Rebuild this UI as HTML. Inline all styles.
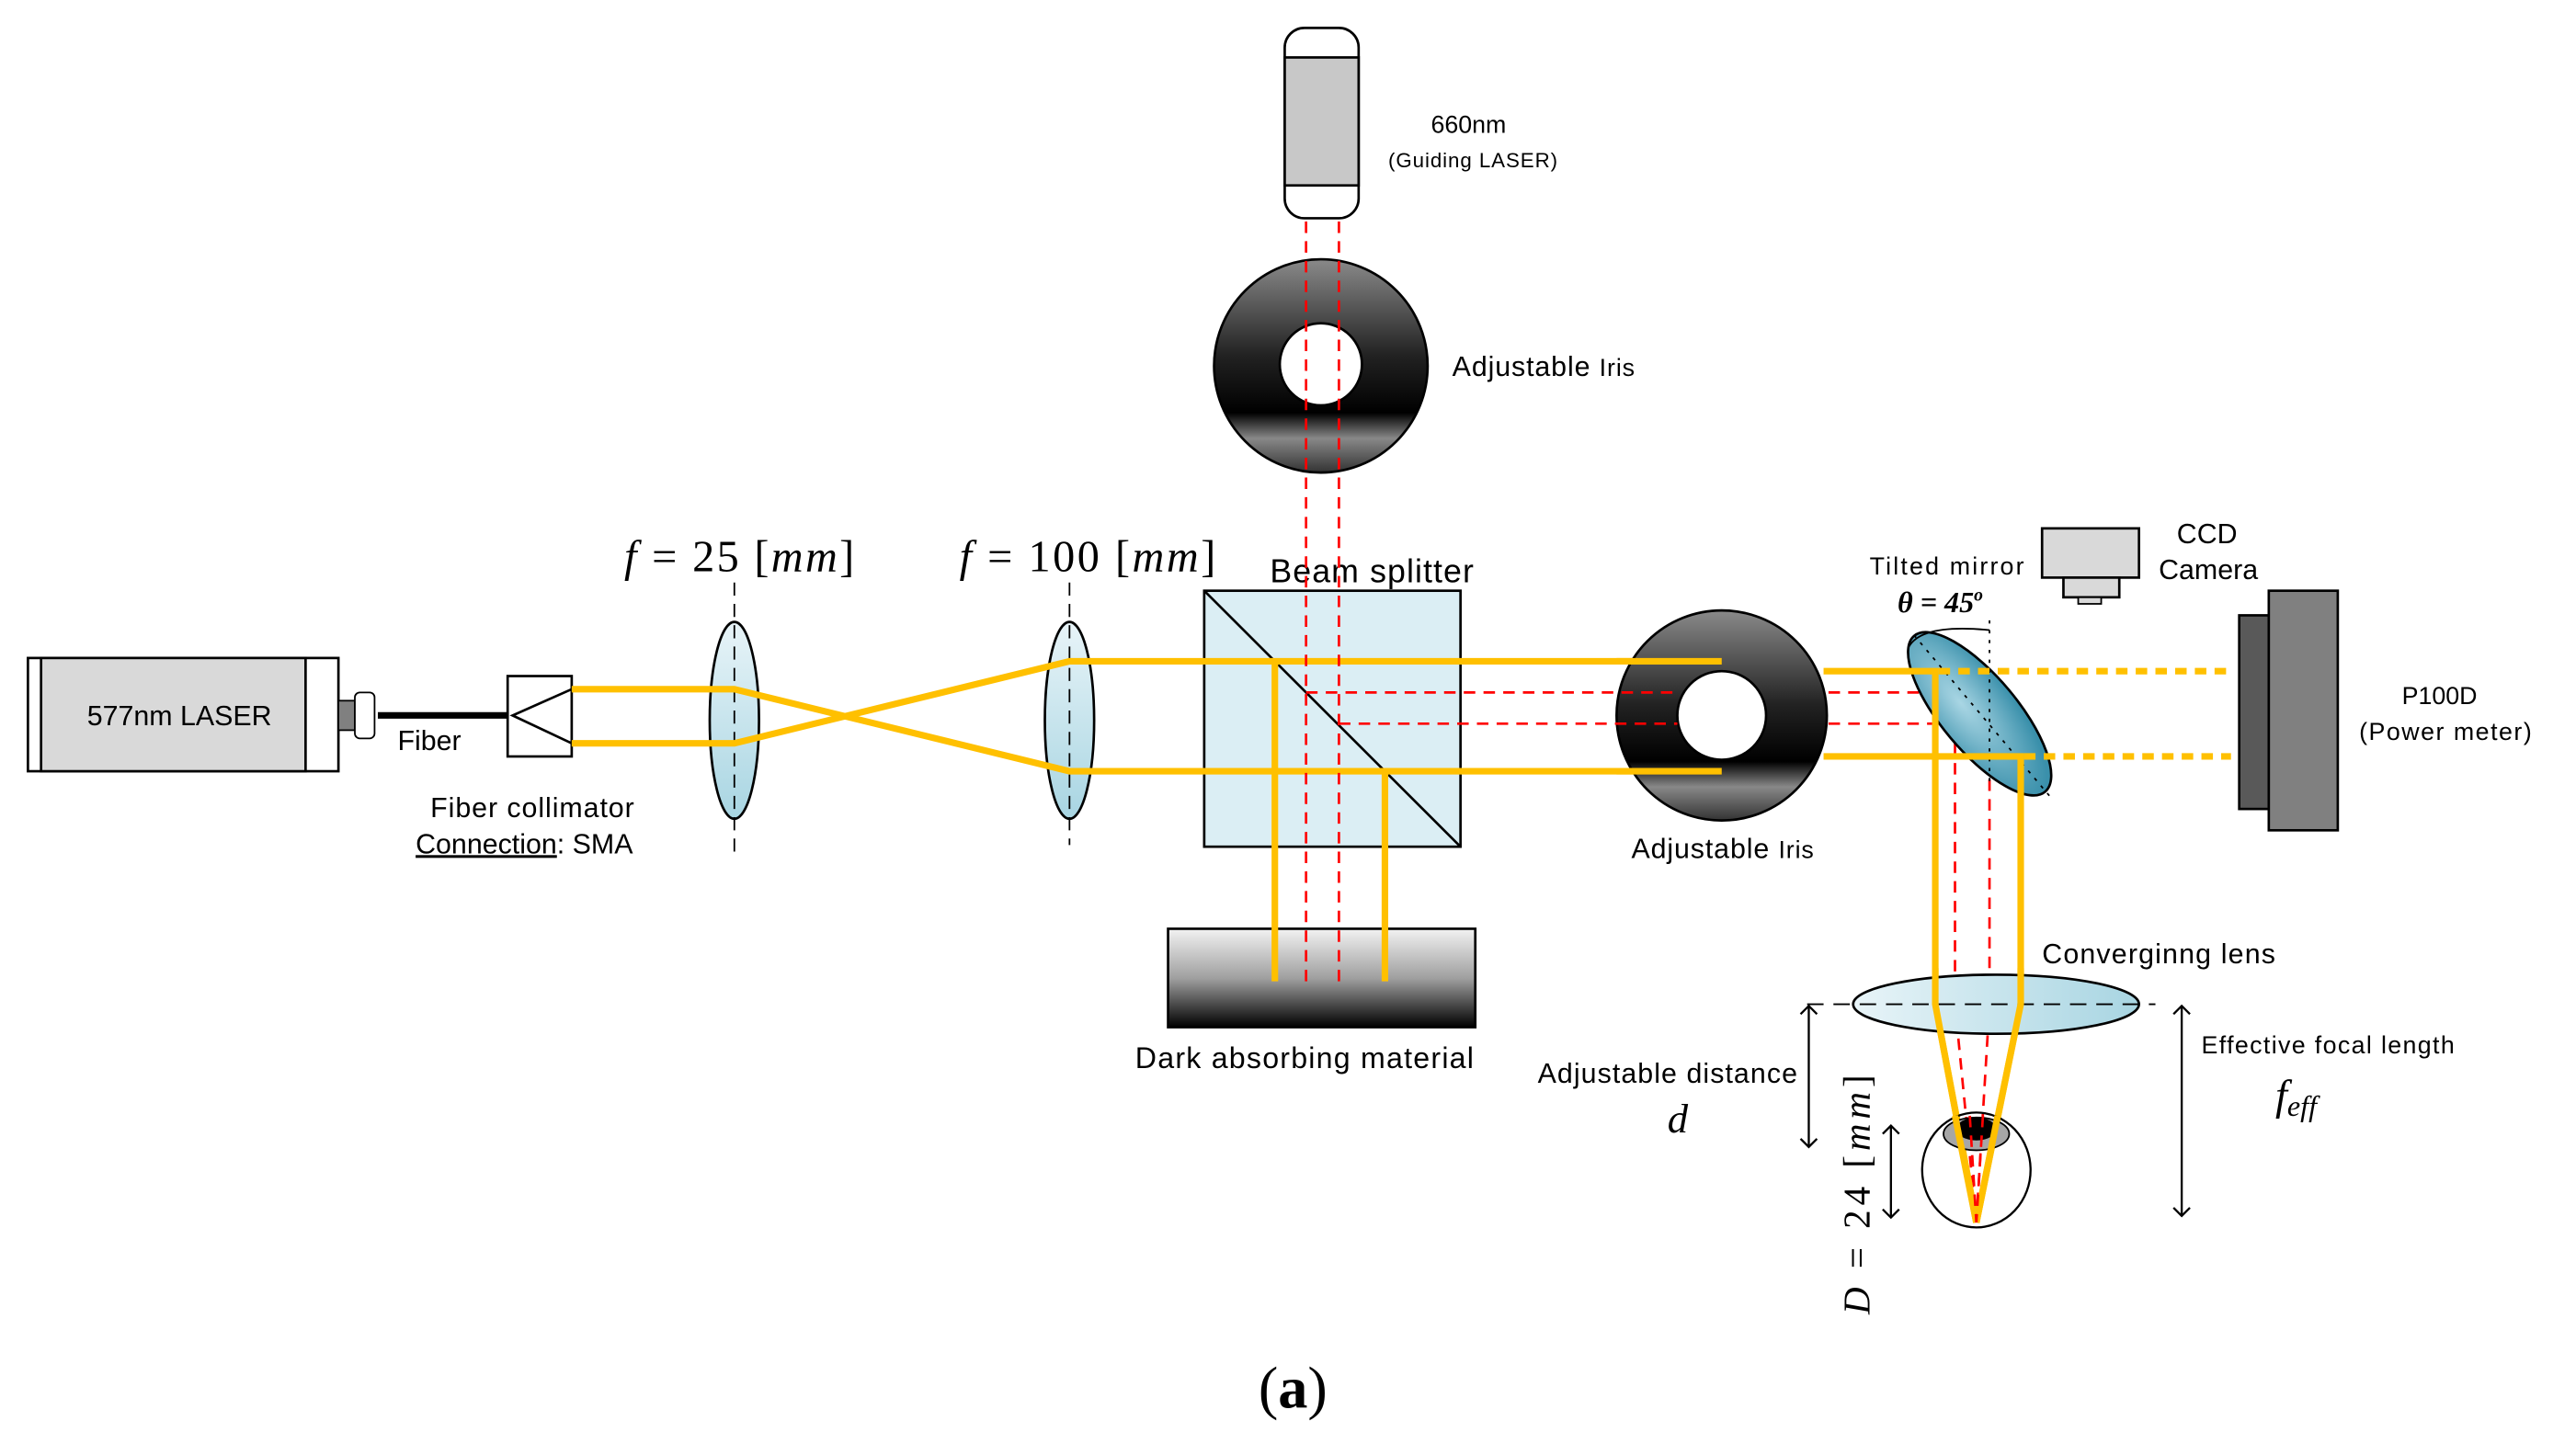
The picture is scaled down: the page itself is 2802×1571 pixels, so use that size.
<!DOCTYPE html>
<html><head><meta charset="utf-8"><style>html,body{margin:0;padding:0;background:#fff}svg{display:block}</style></head>
<body>
<svg width="2802" height="1571" viewBox="0 0 1568 880" preserveAspectRatio="none" xmlns="http://www.w3.org/2000/svg" font-family="Liberation Sans, sans-serif">
<defs>
<linearGradient id="irisg" x1="0" y1="0" x2="0" y2="1">
<stop offset="0" stop-color="#8a8a8a"/><stop offset="0.45" stop-color="#222"/><stop offset="0.72" stop-color="#000"/><stop offset="0.84" stop-color="#888"/><stop offset="1" stop-color="#333"/></linearGradient>
<linearGradient id="lens" x1="0" y1="0" x2="0" y2="1"><stop offset="0" stop-color="#e8f4f8"/><stop offset="1" stop-color="#a8d5e2"/></linearGradient>
<linearGradient id="lensh" x1="0" y1="0" x2="1" y2="0"><stop offset="0" stop-color="#e8f4f8"/><stop offset="1" stop-color="#a8d5e2"/></linearGradient>
<linearGradient id="dark" x1="0" y1="0" x2="0" y2="1"><stop offset="0" stop-color="#f2f2f2"/><stop offset="0.5" stop-color="#a0a0a0"/><stop offset="1" stop-color="#000"/></linearGradient>
<radialGradient id="mir" cx="40%" cy="60%" r="60%"><stop offset="0" stop-color="#a9d6e4"/><stop offset="1" stop-color="#3a90ab"/></radialGradient>
<marker id="ah" markerWidth="14" markerHeight="14" refX="7" refY="7" orient="auto-start-reverse" markerUnits="userSpaceOnUse"><path d="M2,2 L7,7 L2,12" fill="none" stroke="#000" stroke-width="1.3"/></marker>
</defs>

<rect x="17" y="401" width="189" height="69" fill="#fff" stroke="#000" stroke-width="1.5"/>
<rect x="25" y="401" width="161" height="69" fill="#d9d9d9" stroke="#000" stroke-width="1.5"/>
<text x="53" y="442" font-size="17">577nm LASER</text>
<rect x="206" y="427" width="10" height="18" fill="#808080" stroke="#000"/>
<rect x="216" y="422" width="12" height="28" rx="3" fill="#fff" stroke="#000"/>
<line x1="230" y1="436" x2="310" y2="436" stroke="#000" stroke-width="4"/>
<text x="242" y="457" font-size="17">Fiber</text>
<rect x="309" y="412" width="39" height="49" fill="#fff" stroke="#000" stroke-width="1.5"/>
<polyline points="348,420 312,436 348,453" fill="none" stroke="#000" stroke-width="1.5"/>
<text x="262" y="498" font-size="17" textLength="124">Fiber collimator</text>
<text x="253" y="520" font-size="17"><tspan text-decoration="underline">Connection</tspan>: SMA</text>

<ellipse cx="447" cy="439" rx="15" ry="60" fill="url(#lens)" stroke="#000" stroke-width="1.5"/>
<line x1="447" y1="355" x2="447" y2="520" stroke="#000" stroke-dasharray="8,5"/>
<ellipse cx="651" cy="439" rx="15" ry="60" fill="url(#lens)" stroke="#000" stroke-width="1.5"/>
<line x1="651" y1="355" x2="651" y2="515" stroke="#000" stroke-dasharray="8,5"/>
<text x="380" y="348" font-size="27" font-family="Liberation Serif, serif" textLength="140"><tspan font-style="italic">f</tspan> = 25 [<tspan font-style="italic">mm</tspan>]</text>
<text x="584" y="348" font-size="27" font-family="Liberation Serif, serif" textLength="156"><tspan font-style="italic">f</tspan> = 100 [<tspan font-style="italic">mm</tspan>]</text>

<rect x="733" y="360" width="156" height="156" fill="#dbeef4" stroke="#000" stroke-width="1.5"/>
<line x1="733" y1="360" x2="889" y2="516" stroke="#000" stroke-width="1.5"/>
<text x="773" y="355" font-size="20" textLength="124">Beam splitter</text>

<rect x="711" y="566" width="187" height="60" fill="url(#dark)" stroke="#000" stroke-width="1.5"/>
<text x="691" y="651" font-size="18" textLength="206">Dark absorbing material</text>

<rect x="782" y="17" width="45" height="116" rx="12" fill="#fff" stroke="#000" stroke-width="1.5"/>
<rect x="782" y="35" width="45" height="78" fill="#c8c8c8" stroke="#000" stroke-width="1.5"/>
<text x="871" y="81" font-size="15">660nm</text>
<text x="845" y="102" font-size="12.5" textLength="103">(Guiding LASER)</text>

<circle cx="804" cy="223" r="65" fill="url(#irisg)" stroke="#000" stroke-width="1.5"/>
<circle cx="804" cy="222" r="25" fill="#fff" stroke="#000" stroke-width="1.5"/>
<text x="884" y="229" font-size="17" textLength="111">Adjustable <tspan font-size="15">Iris</tspan></text>

<g stroke="#ffc000" stroke-width="4" fill="none">
<polyline points="348,420 447,420 651,470 1048,470"/>
<polyline points="348,453 447,453 651,403 1048,403"/>
<polyline points="776,403 776,598"/>
<polyline points="843,470 843,598"/>
</g>

<circle cx="1048" cy="436" r="64" fill="url(#irisg)" stroke="#000" stroke-width="1.5"/>
<circle cx="1048" cy="436" r="27" fill="#fff" stroke="#000" stroke-width="1.5"/>
<g stroke="#ffc000" stroke-width="4" fill="none">
<line x1="984" y1="403" x2="1048" y2="403"/>
<line x1="984" y1="470" x2="1048" y2="470"/>
</g>
<text x="993" y="523" font-size="17" textLength="111">Adjustable <tspan font-size="15">Iris</tspan></text>

<g stroke="#ff0000" stroke-width="1.5" stroke-dasharray="7,5" fill="none">
<line x1="795" y1="135" x2="795" y2="598"/>
<line x1="815" y1="135" x2="815" y2="598"/>
<polyline points="795,422 1021,422"/>
<polyline points="815,441 1021,441"/>
<polyline points="1113,422 1190,422 1190,612 1203,745"/>
<polyline points="1113,441 1211,441 1211,612 1203,745"/>
</g>

<ellipse cx="1205" cy="435" rx="62" ry="23" transform="rotate(50 1205 435)" fill="url(#mir)" stroke="#000" stroke-width="1.5"/>
<line x1="1165" y1="387" x2="1250" y2="488" stroke="#000" stroke-dasharray="2,4"/>
<line x1="1211" y1="378" x2="1211" y2="480" stroke="#000" stroke-dasharray="2,4"/>
<path d="M1162,394 Q1170,380 1211,384" fill="none" stroke="#000"/>
<text x="1138" y="350" font-size="15" textLength="94">Tilted mirror</text>
<text x="1155" y="373" font-size="18" font-weight="bold" font-family="Liberation Serif, serif" font-style="italic">θ = 45<tspan font-size="11" dy="-7">o</tspan></text>

<g stroke="#ffc000" stroke-width="4" fill="none">
<polyline points="1110,409 1178,409 1178,612 1203,745"/>
<polyline points="1110,461 1230,461 1230,612 1203,745"/>
<line x1="1180" y1="409" x2="1358" y2="409" stroke-dasharray="7,5"/>
<line x1="1232" y1="461" x2="1358" y2="461" stroke-dasharray="7,5"/>
</g>

<rect x="1243" y="322" width="59" height="30" fill="#d9d9d9" stroke="#000" stroke-width="1.5"/>
<rect x="1256" y="352" width="34" height="12" fill="#d9d9d9" stroke="#000" stroke-width="1.5"/>
<rect x="1265" y="364" width="14" height="4" fill="#d9d9d9" stroke="#000"/>
<text x="1325" y="331" font-size="17">CCD</text>
<text x="1314" y="353" font-size="17">Camera</text>

<rect x="1363" y="375" width="18" height="118" fill="#595959" stroke="#000" stroke-width="1.5"/>
<rect x="1381" y="360" width="42" height="146" fill="#808080" stroke="#000" stroke-width="1.5"/>
<text x="1462" y="429" font-size="15">P100D</text>
<text x="1436" y="451" font-size="15" textLength="105">(Power meter)</text>

<ellipse cx="1215" cy="612" rx="87" ry="18" fill="url(#lensh)" stroke="#000" stroke-width="1.5"/>
<line x1="1100" y1="612" x2="1312" y2="612" stroke="#000" stroke-dasharray="10,6"/>
<g stroke="#ffc000" stroke-width="4" fill="none">
<polyline points="1178,590 1178,612 1203,745"/>
<polyline points="1230,590 1230,612 1203,745"/>
</g>
<text x="1243" y="587" font-size="17" textLength="142">Converginng lens</text>

<ellipse cx="1203" cy="713" rx="33" ry="35" fill="none" stroke="#000" stroke-width="1.3"/>
<ellipse cx="1203" cy="691" rx="20" ry="10" fill="#a6a6a6" stroke="#000"/>
<ellipse cx="1203" cy="688" rx="12" ry="7" fill="#000"/>
<g stroke="#ffc000" stroke-width="4"><line x1="1190" y1="680" x2="1203" y2="745"/><line x1="1216" y1="680" x2="1203" y2="745"/></g>
<g stroke="#ff0000" stroke-width="1.5" stroke-dasharray="7,5"><line x1="1199" y1="680" x2="1203" y2="745"/><line x1="1207" y1="680" x2="1203" y2="745"/></g>

<g stroke="#000" stroke-width="1.3">
<line x1="1101" y1="613" x2="1101" y2="699" marker-start="url(#ah)" marker-end="url(#ah)"/>
<line x1="1151" y1="686" x2="1151" y2="742" marker-start="url(#ah)" marker-end="url(#ah)"/>
<line x1="1328" y1="613" x2="1328" y2="741" marker-start="url(#ah)" marker-end="url(#ah)"/>
</g>
<text x="936" y="660" font-size="17" textLength="158">Adjustable distance</text>
<text x="1015" y="690" font-size="25" font-style="italic" font-family="Liberation Serif, serif">d</text>
<text x="1340" y="642" font-size="15" textLength="154">Effective focal length</text>
<text x="1385" y="676" font-size="26" font-style="italic" font-family="Liberation Serif, serif">f<tspan font-size="18" dy="4">eff</tspan></text>
<text transform="translate(1138,728) rotate(-90)" text-anchor="middle" font-size="23" font-family="Liberation Serif, serif" textLength="146"><tspan font-style="italic">D</tspan> = 24 [<tspan font-style="italic">mm</tspan>]</text>

<text x="787" y="858" text-anchor="middle" font-size="36" font-family="Liberation Serif, serif">(<tspan font-weight="bold">a</tspan>)</text>
</svg>
</body></html>
